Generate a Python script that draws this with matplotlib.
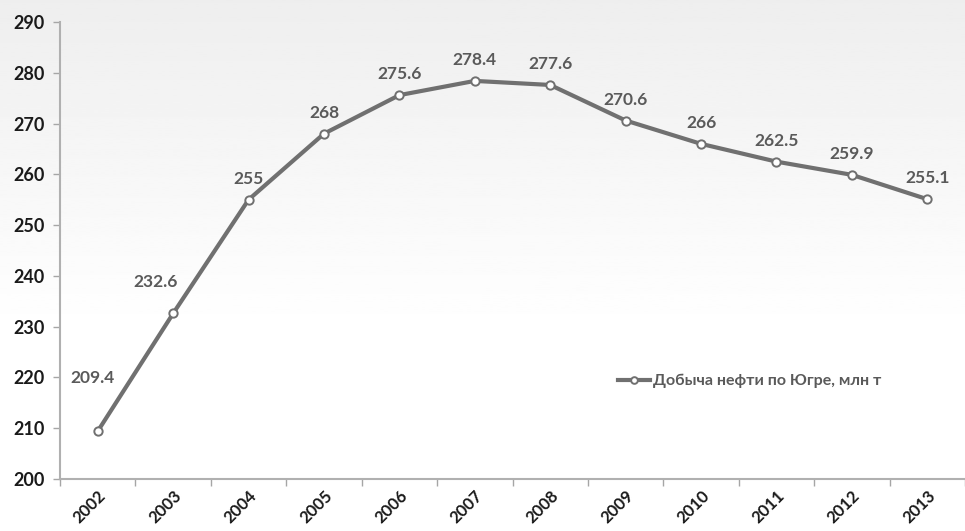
import numpy as np
import matplotlib.pyplot as plt

# Добыча нефти по Югре, млн т
years = ['2002', '2003', '2004', '2005', '2006', '2007',
         '2008', '2009', '2010', '2011', '2012', '2013']
values = [209.4, 232.6, 255, 268, 275.6, 278.4,
          277.6, 270.6, 266, 262.5, 259.9, 255.1]
value_labels = ['209.4', '232.6', '255', '268', '275.6', '278.4',
                '277.6', '270.6', '266', '262.5', '259.9', '255.1']
series_name = 'Добыча нефти по Югре, млн т'

plt.rcParams['font.family'] = ['Lato', 'DejaVu Sans']

fig = plt.figure(figsize=(9.65, 5.31), dpi=100)

# фон с лёгким градиентом
bg = fig.add_axes([0, 0, 1, 1], zorder=-10)
grad = np.linspace(1.0, 0.0, 256).reshape(-1, 1)
grad = np.clip(grad * 1.6, 0, 1)
bg.imshow(grad, aspect='auto', cmap='gray', vmin=-14.0, vmax=1.0,
          extent=[0, 1, 0, 1], origin='lower')
bg.axis('off')

ax = fig.add_axes([60 / 965, 52 / 531, 905 / 965, 457 / 531])
ax.patch.set_alpha(0)

x = np.arange(len(years))
line, = ax.plot(x, values, color='#707070', lw=3, marker='o', ms=6,
                mfc='white', mec='#707070', mew=1.4, label=series_name)

# подписи значений
offsets = {0: (-5, -53), 1: (-18, -31)}
for i, (v, s) in enumerate(zip(values, value_labels)):
    dx, dy = offsets.get(i, (0, -21))
    ax.annotate(s, (i, v), xytext=(dx, -dy), textcoords='offset pixels',
                ha='center', va='center', fontsize=12.5, fontweight='bold',
                color='#5a5a5a')

ax.set_xlim(-0.5, len(years) - 0.5)
ax.set_ylim(200, 290)
ax.set_yticks(np.arange(200, 291, 10))
ax.set_xticks(x)
ax.set_xticklabels(years, rotation=45, ha='right', rotation_mode='anchor',
                   fontsize=12, fontweight='bold', color='#1a1a1a')
ax.set_xticks(np.arange(-0.5, len(years), 1), minor=True)
ax.tick_params(axis='x', which='major', length=0, pad=6)
ax.tick_params(axis='x', which='minor', length=5, color='#a6a6a6', width=1)
ax.tick_params(axis='y', length=5, color='#a6a6a6', width=1, pad=6,
               labelsize=13, labelcolor='#1a1a1a')
for lab in ax.get_yticklabels():
    lab.set_fontweight('bold')

for side in ['top', 'right']:
    ax.spines[side].set_visible(False)
for side in ['left', 'bottom']:
    ax.spines[side].set_color('#b0b0b0')
    ax.spines[side].set_linewidth(1.5)

leg = ax.legend(loc='center left', bbox_to_anchor=(0.61, 0.214), frameon=False,
                handlelength=2.0, handletextpad=0.15, borderaxespad=0,
                markerscale=0.8, prop={'size': 11.5, 'weight': 'bold'})
for t in leg.get_texts():
    t.set_color('#5a5a5a')

fig.savefig('out.png', dpi=100)
